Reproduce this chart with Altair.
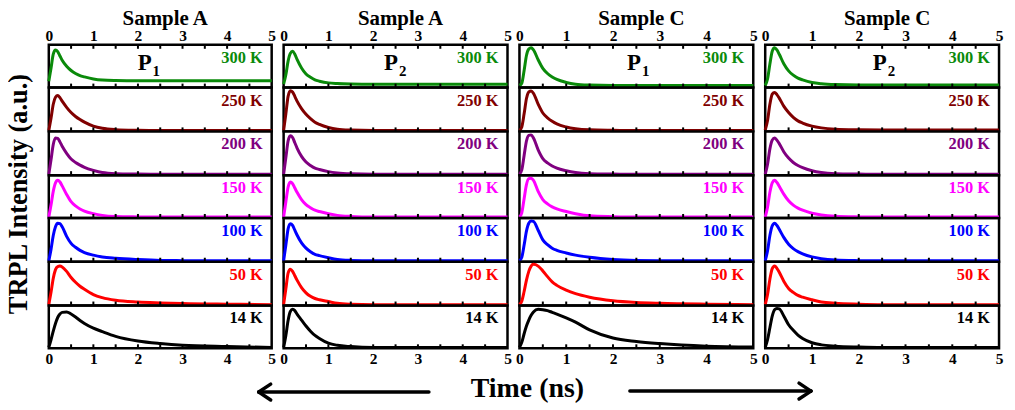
import altair as alt
import pandas as pd

FONT = "Liberation Serif"

TIME = [0, 0.05, 0.1, 0.15, 0.2, 0.25, 0.3, 0.4, 0.5, 0.6, 0.7, 0.8, 1.0, 1.2, 1.5, 2.0, 2.5, 3.0, 4.0, 5.0]
TEMPS = ["300 K", "250 K", "200 K", "150 K", "100 K", "50 K", "14 K"]
COLORS = ["#0a8a0a", "#800000", "#800080", "#ff00ff", "#0000ff", "#ff0000", "#000000"]
MINOR_TICKS = [0.5, 1, 1.5, 2, 2.5, 3, 3.5, 4, 4.5]
AXIS_VALUES = [0, 1, 2, 3, 4, 5]

SAMPLE_A_P1 = {
    "300 K": [0.15, 0.45, 0.78, 0.88, 0.84, 0.74, 0.64, 0.50, 0.40, 0.33, 0.28, 0.25, 0.20, 0.175, 0.165, 0.16, 0.16, 0.16, 0.16, 0.16],
    "250 K": [0.02, 0.30, 0.62, 0.78, 0.82, 0.77, 0.69, 0.55, 0.43, 0.34, 0.27, 0.21, 0.12, 0.07, 0.04, 0.025, 0.02, 0.02, 0.02, 0.02],
    "200 K": [0.02, 0.35, 0.70, 0.85, 0.84, 0.76, 0.66, 0.50, 0.37, 0.29, 0.23, 0.18, 0.11, 0.06, 0.035, 0.025, 0.02, 0.02, 0.02, 0.02],
    "150 K": [0.02, 0.30, 0.62, 0.82, 0.88, 0.84, 0.75, 0.55, 0.38, 0.28, 0.21, 0.16, 0.10, 0.06, 0.035, 0.025, 0.02, 0.02, 0.02, 0.02],
    "100 K": [0.02, 0.28, 0.60, 0.80, 0.88, 0.87, 0.80, 0.58, 0.42, 0.33, 0.26, 0.21, 0.15, 0.11, 0.08, 0.05, 0.03, 0.025, 0.02, 0.02],
    "50 K":  [0.02, 0.30, 0.62, 0.82, 0.89, 0.90, 0.88, 0.78, 0.64, 0.53, 0.44, 0.37, 0.25, 0.18, 0.12, 0.08, 0.06, 0.045, 0.03, 0.02],
    "14 K":  [0.02, 0.20, 0.40, 0.58, 0.72, 0.80, 0.84, 0.85, 0.80, 0.73, 0.65, 0.58, 0.47, 0.39, 0.28, 0.17, 0.11, 0.07, 0.04, 0.02],
}
SAMPLE_A_P2 = {
    "300 K": [0.08, 0.30, 0.62, 0.80, 0.85, 0.78, 0.66, 0.46, 0.32, 0.24, 0.18, 0.15, 0.11, 0.095, 0.085, 0.08, 0.08, 0.08, 0.08, 0.08],
    "250 K": [0.02, 0.40, 0.80, 0.93, 0.90, 0.80, 0.69, 0.52, 0.39, 0.29, 0.21, 0.16, 0.09, 0.05, 0.03, 0.02, 0.02, 0.02, 0.02, 0.02],
    "200 K": [0.02, 0.40, 0.78, 0.90, 0.86, 0.74, 0.62, 0.43, 0.30, 0.22, 0.16, 0.13, 0.08, 0.05, 0.03, 0.02, 0.02, 0.02, 0.02, 0.02],
    "150 K": [0.02, 0.38, 0.72, 0.84, 0.80, 0.70, 0.60, 0.43, 0.31, 0.24, 0.18, 0.15, 0.10, 0.06, 0.035, 0.02, 0.02, 0.02, 0.02, 0.02],
    "100 K": [0.02, 0.38, 0.75, 0.87, 0.83, 0.72, 0.61, 0.43, 0.31, 0.23, 0.17, 0.14, 0.09, 0.05, 0.03, 0.02, 0.02, 0.02, 0.02, 0.02],
    "50 K":  [0.02, 0.38, 0.74, 0.83, 0.78, 0.68, 0.58, 0.41, 0.29, 0.21, 0.16, 0.13, 0.09, 0.05, 0.03, 0.02, 0.02, 0.02, 0.02, 0.02],
    "14 K":  [0.02, 0.30, 0.65, 0.86, 0.91, 0.88, 0.80, 0.66, 0.52, 0.40, 0.30, 0.23, 0.12, 0.07, 0.04, 0.02, 0.02, 0.02, 0.02, 0.02],
}
SAMPLE_C_P1 = {
    "300 K": [0.05, 0.10, 0.40, 0.75, 0.90, 0.93, 0.88, 0.65, 0.45, 0.33, 0.25, 0.19, 0.12, 0.08, 0.06, 0.05, 0.05, 0.05, 0.05, 0.05],
    "250 K": [0.02, 0.10, 0.40, 0.75, 0.90, 0.92, 0.87, 0.62, 0.42, 0.31, 0.23, 0.17, 0.10, 0.06, 0.035, 0.025, 0.02, 0.02, 0.02, 0.02],
    "200 K": [0.02, 0.12, 0.45, 0.78, 0.91, 0.92, 0.85, 0.58, 0.38, 0.28, 0.21, 0.16, 0.10, 0.06, 0.035, 0.025, 0.02, 0.02, 0.02, 0.02],
    "150 K": [0.02, 0.12, 0.45, 0.78, 0.92, 0.93, 0.88, 0.62, 0.43, 0.33, 0.26, 0.21, 0.15, 0.10, 0.05, 0.03, 0.02, 0.02, 0.02, 0.02],
    "100 K": [0.02, 0.10, 0.38, 0.70, 0.88, 0.93, 0.92, 0.72, 0.50, 0.39, 0.31, 0.26, 0.20, 0.15, 0.10, 0.05, 0.03, 0.025, 0.02, 0.02],
    "50 K":  [0.02, 0.10, 0.32, 0.58, 0.78, 0.90, 0.94, 0.90, 0.79, 0.66, 0.54, 0.46, 0.35, 0.27, 0.19, 0.11, 0.07, 0.05, 0.03, 0.02],
    "14 K":  [0.02, 0.14, 0.34, 0.52, 0.66, 0.77, 0.85, 0.91, 0.90, 0.88, 0.84, 0.80, 0.71, 0.61, 0.43, 0.24, 0.16, 0.11, 0.05, 0.03],
}
SAMPLE_C_P2 = {
    "300 K": [0.05, 0.20, 0.55, 0.85, 0.93, 0.88, 0.78, 0.55, 0.39, 0.29, 0.22, 0.18, 0.12, 0.09, 0.07, 0.06, 0.06, 0.06, 0.06, 0.06],
    "250 K": [0.03, 0.25, 0.62, 0.85, 0.89, 0.84, 0.76, 0.57, 0.43, 0.32, 0.24, 0.19, 0.12, 0.08, 0.05, 0.035, 0.03, 0.03, 0.03, 0.03],
    "200 K": [0.02, 0.25, 0.60, 0.80, 0.85, 0.80, 0.72, 0.53, 0.39, 0.29, 0.22, 0.17, 0.10, 0.06, 0.035, 0.025, 0.02, 0.02, 0.02, 0.02],
    "150 K": [0.02, 0.25, 0.60, 0.82, 0.88, 0.83, 0.74, 0.55, 0.40, 0.30, 0.23, 0.18, 0.11, 0.07, 0.04, 0.025, 0.02, 0.02, 0.02, 0.02],
    "100 K": [0.02, 0.25, 0.60, 0.82, 0.88, 0.83, 0.74, 0.55, 0.40, 0.30, 0.23, 0.18, 0.11, 0.07, 0.04, 0.025, 0.02, 0.02, 0.02, 0.02],
    "50 K":  [0.02, 0.25, 0.60, 0.84, 0.90, 0.85, 0.76, 0.55, 0.39, 0.30, 0.23, 0.19, 0.13, 0.08, 0.05, 0.03, 0.02, 0.02, 0.02, 0.02],
    "14 K":  [0.02, 0.20, 0.48, 0.75, 0.90, 0.93, 0.92, 0.75, 0.55, 0.42, 0.31, 0.23, 0.13, 0.08, 0.05, 0.03, 0.02, 0.02, 0.02, 0.02],
}

PANELS = [
    ("Sample A", "1", SAMPLE_A_P1),
    ("Sample A", "2", SAMPLE_A_P2),
    ("Sample C", "1", SAMPLE_C_P1),
    ("Sample C", "2", SAMPLE_C_P2),
]
WIDTHS = [224, 225, 235, 235]
HEIGHTS = [43, 44, 44, 43, 44, 44, 43]
P_FRAC = [0.43, 0.48, 0.49, 0.49]

ONE = alt.Data(values=[{"k": 0}])


def txt(text, **kw):
    return alt.Chart(alt.Data(values=[{"s": text}])).mark_text(
        font=FONT, fontWeight="bold", **kw
    ).encode(text="s:N")


def row_chart(ci, ri):
    w = WIDTHS[ci]
    h = HEIGHTS[ri]
    title, sub, curves = PANELS[ci]
    temp = TEMPS[ri]
    color = COLORS[ri]
    df = pd.DataFrame({"t": TIME, "I": curves[temp]})

    axis_common = dict(values=AXIS_VALUES, ticks=False, domain=False, grid=False,
                       labelFont=FONT, labelFontSize=15.5, labelFontWeight="bold",
                       labelColor="black", labelFlush=False, format="d", title=None)
    if ri == 0:
        axis = alt.Axis(orient="top", labelPadding=1, **axis_common)
    elif ri == len(TEMPS) - 1:
        axis = alt.Axis(orient="bottom", labelPadding=3, **axis_common)
    else:
        axis = None
    x = alt.X("t:Q", scale=alt.Scale(domain=[0, 5], nice=False, zero=False), axis=axis)
    y = alt.Y("I:Q", scale=alt.Scale(domain=[0, 1]), axis=None)

    line = alt.Chart(df).mark_line(color=color, strokeWidth=3, interpolate="monotone").encode(x=x, y=y)
    tdf = pd.DataFrame({"t": MINOR_TICKS})
    layers = [line,
              alt.Chart(tdf).mark_rule(color="black", strokeWidth=2).encode(
                  x=x, y=alt.value(h), y2=alt.value(h - 4))]
    if ri == 0:
        layers.append(alt.Chart(tdf).mark_rule(color="black", strokeWidth=2).encode(
            x=x, y=alt.value(0), y2=alt.value(4)))
        px = P_FRAC[ci] * w
        layers.append(txt("P", fontSize=23, align="center", baseline="alphabetic", color="black").encode(
            x=alt.value(px), y=alt.value(25)))
        layers.append(txt(sub, fontSize=15, align="left", baseline="alphabetic", color="black").encode(
            x=alt.value(px + 8), y=alt.value(31)))
        layers.append(txt(title, fontSize=21, align="center", baseline="alphabetic", color="black").encode(
            x=alt.value(w / 2 + 5), y=alt.value(-20)))
    layers.append(txt(temp, fontSize=16.5, align="right", baseline="alphabetic", color=color).encode(
        x=alt.value(w - 9), y=alt.value(18)))

    if ci == 0 and ri == 3:
        layers.append(txt("TRPL Intensity (a.u.)", fontSize=26.5, align="center", baseline="middle",
                          angle=270, color="black").encode(x=alt.value(-30), y=alt.value(19)))
    if ci == 1 and ri == len(TEMPS) - 1:
        layers.append(txt("Time (ns)", fontSize=28, align="center", baseline="alphabetic",
                          color="black").encode(x=alt.value(245), y=alt.value(92)))
        arrow_segments = [
            (-25, 87, 146, 87), (-25, 87, -13, 79), (-25, 87, -13, 95),
            (348, 86, 530, 86), (530, 86, 518, 78), (530, 86, 518, 94),
        ]
        for (x1, y1, x2, y2) in arrow_segments:
            layers.append(alt.Chart(ONE).mark_rule(color="black", strokeWidth=3.5, strokeCap="round").encode(
                x=alt.value(x1), y=alt.value(y1), x2=alt.value(x2), y2=alt.value(y2)))

    return alt.layer(*layers).properties(width=w, height=h)


cells = [row_chart(ci, ri) for ri in range(len(TEMPS)) for ci in range(len(PANELS))]

chart = alt.concat(*cells, columns=len(PANELS), spacing={"row": 0, "column": 12},
                   bounds="flush").properties(
    padding={"top": -3, "left": -4, "right": 0, "bottom": 0}, background="white"
).configure_view(stroke="black", strokeWidth=2.5)

chart.save("out.html", embed_options={"renderer": "svg", "actions": False})
